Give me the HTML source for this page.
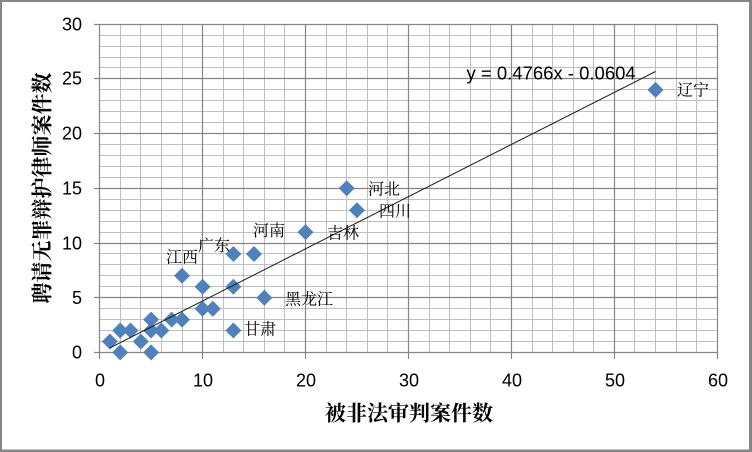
<!DOCTYPE html>
<html>
<head>
<meta charset="utf-8">
<style>
html,body{margin:0;padding:0;background:#fff;}
svg{display:block;}
.t{font-family:"Liberation Sans",sans-serif;font-size:18px;fill:#000;}
.c{font-family:"Liberation Sans","Noto Serif CJK SC","Noto Sans CJK SC",serif;font-size:16px;fill:#000;}
.ti{font-family:"Liberation Sans","Noto Serif CJK SC","Noto Sans CJK SC",serif;font-size:21px;font-weight:bold;fill:#000;}
</style>
</head>
<body>
<svg width="752" height="452" viewBox="0 0 752 452" xmlns="http://www.w3.org/2000/svg">
<rect x="0" y="0" width="752" height="452" fill="#fff"/>
<!-- frame -->
<rect x="0" y="0" width="752" height="2" fill="#868686"/>
<rect x="0" y="0" width="2" height="452" fill="#868686"/>
<rect x="749" y="0" width="3" height="452" fill="#868686"/>
<rect x="0" y="449.5" width="752" height="2.5" fill="#868686"/>

<!-- minor gridlines -->
<g stroke="#bfbfbf" stroke-width="1" fill="none">
<path d="M99.5 341.5H717.5M99.5 330.5H717.5M99.5 319.5H717.5M99.5 308.5H717.5
M99.5 286.5H717.5M99.5 275.5H717.5M99.5 264.5H717.5M99.5 253.5H717.5
M99.5 232.5H717.5M99.5 221.5H717.5M99.5 210.5H717.5M99.5 199.5H717.5
M99.5 177.5H717.5M99.5 166.5H717.5M99.5 155.5H717.5M99.5 144.5H717.5
M99.5 122.5H717.5M99.5 111.5H717.5M99.5 100.5H717.5M99.5 89.5H717.5
M99.5 67.5H717.5M99.5 57.5H717.5M99.5 46.5H717.5M99.5 35.5H717.5"/>
<path d="M120.5 24.5V352.5M140.5 24.5V352.5M161.5 24.5V352.5M182.5 24.5V352.5
M223.5 24.5V352.5M243.5 24.5V352.5M264.5 24.5V352.5M284.5 24.5V352.5
M326.5 24.5V352.5M346.5 24.5V352.5M367.5 24.5V352.5M387.5 24.5V352.5
M429.5 24.5V352.5M449.5 24.5V352.5M470.5 24.5V352.5M490.5 24.5V352.5
M532.5 24.5V352.5M552.5 24.5V352.5M573.5 24.5V352.5M593.5 24.5V352.5
M634.5 24.5V352.5M655.5 24.5V352.5M676.5 24.5V352.5M696.5 24.5V352.5"/>
</g>
<!-- major gridlines -->
<g stroke="#868686" stroke-width="1.2" fill="none">
<path d="M99.5 297.5H717.5M99.5 243.5H717.5M99.5 188.5H717.5M99.5 133.5H717.5M99.5 78.5H717.5M99.5 24.5H717.5"/>
<path d="M202.5 24.5V352.5M305.5 24.5V352.5M408.5 24.5V352.5M511.5 24.5V352.5M614.5 24.5V352.5M717.5 24.5V352.5"/>
<!-- axes -->
<path d="M99.5 24.5V352.5M99.5 352.5H717.5"/>
<!-- y ticks -->
<path d="M94 352.5H99.5M94 297.5H99.5M94 243.5H99.5M94 188.5H99.5M94 133.5H99.5M94 78.5H99.5M94 24.5H99.5"/>
<!-- x ticks -->
<path d="M99.5 352.5V359M202.5 352.5V359M305.5 352.5V359M408.5 352.5V359M511.5 352.5V359M614.5 352.5V359M717.5 352.5V359"/>
</g>

<!-- y tick labels -->
<g class="t" text-anchor="end">
<text x="82" y="358.5">0</text>
<text x="82" y="304">5</text>
<text x="82" y="249.5">10</text>
<text x="82" y="194.5">15</text>
<text x="82" y="139.5">20</text>
<text x="82" y="84.5">25</text>
<text x="82" y="30.5">30</text>
</g>
<!-- x tick labels -->
<g class="t" text-anchor="middle">
<text x="100" y="386.5">0</text>
<text x="203" y="386.5">10</text>
<text x="306" y="386.5">20</text>
<text x="409" y="386.5">30</text>
<text x="512" y="386.5">40</text>
<text x="615" y="386.5">50</text>
<text x="718" y="386.5">60</text>
</g>

<!-- points -->
<g fill="#4f81bd">
<path d="M109.9 333.5L117.9 341.5L109.9 349.5L101.9 341.5Z"/>
<path d="M120.2 322.5L128.2 330.5L120.2 338.5L112.2 330.5Z"/>
<path d="M120.2 344.4L128.2 352.4L120.2 360.4L112.2 352.4Z"/>
<path d="M130.5 322.5L138.5 330.5L130.5 338.5L122.5 330.5Z"/>
<path d="M140.8 333.5L148.8 341.5L140.8 349.5L132.8 341.5Z"/>
<path d="M151.1 311.6L159.1 319.6L151.1 327.6L143.1 319.6Z"/>
<path d="M151.1 322.5L159.1 330.5L151.1 338.5L143.1 330.5Z"/>
<path d="M151.1 344.4L159.1 352.4L151.1 360.4L143.1 352.4Z"/>
<path d="M161.4 322.5L169.4 330.5L161.4 338.5L153.4 330.5Z"/>
<path d="M171.7 311.6L179.7 319.6L171.7 327.6L163.7 319.6Z"/>
<path d="M182.0 311.6L190.0 319.6L182.0 327.6L174.0 319.6Z"/>
<path d="M182.0 267.8L190.0 275.8L182.0 283.8L174.0 275.8Z"/>
<path d="M202.55 278.8L210.55 286.8L202.55 294.8L194.55 286.8Z"/>
<path d="M202.55 300.7L210.55 308.7L202.55 316.7L194.55 308.7Z"/>
<path d="M212.8 300.7L220.8 308.7L212.8 316.7L204.8 308.7Z"/>
<path d="M233.4 246.0L241.4 254.0L233.4 262.0L225.4 254.0Z"/>
<path d="M233.4 278.8L241.4 286.8L233.4 294.8L225.4 286.8Z"/>
<path d="M233.4 322.5L241.4 330.5L233.4 338.5L225.4 330.5Z"/>
<path d="M254.0 246.0L262.0 254.0L254.0 262.0L246.0 254.0Z"/>
<path d="M264.3 289.7L272.3 297.7L264.3 305.7L256.3 297.7Z"/>
<path d="M305.5 224.1L313.5 232.1L305.5 240.1L297.5 232.1Z"/>
<path d="M346.7 180.3L354.7 188.3L346.7 196.3L338.7 188.3Z"/>
<path d="M357.0 202.2L365.0 210.2L357.0 218.2L349.0 210.2Z"/>
<path d="M655.5 81.9L663.5 89.9L655.5 97.9L647.5 89.9Z"/>
</g>

<!-- trendline -->
<line x1="109.9" y1="347.9" x2="655.5" y2="71.5" stroke="#1a1a1a" stroke-width="1"/>

<!-- equation -->
<text class="t" x="466.5" y="79.5" style="font-size:18.5px">y = 0.4766x - 0.0604</text>

<!-- data labels -->
<g class="c">
<text x="677" y="95.3">辽宁</text>
<text x="368" y="194.3">河北</text>
<text x="379" y="216.7">四川</text>
<text x="327" y="238.7">吉林</text>
<text x="253" y="236">河南</text>
<text x="285" y="304.3">黑龙江</text>
<text x="244" y="334.3">甘肃</text>
<text x="166" y="262.7">江西</text>
<text x="198" y="251">广东</text>
</g>

<!-- axis titles -->
<text class="ti" x="409" y="420.5" text-anchor="middle">被非法审判案件数</text>
<text class="ti" transform="translate(49.5,188) rotate(-90)" x="0" y="0" text-anchor="middle">聘请无罪辩护律师案件数</text>
</svg>
</body>
</html>
